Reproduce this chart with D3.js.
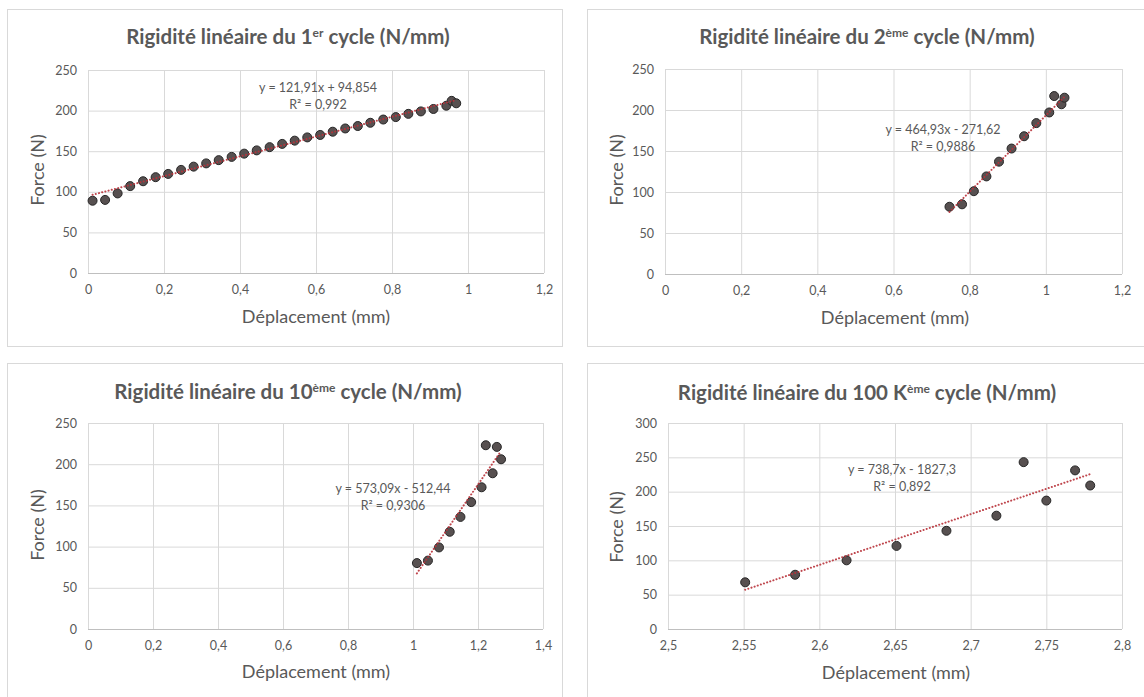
<!DOCTYPE html>
<html>
<head>
<meta charset="utf-8">
<script src="https://cdn.jsdelivr.net/npm/d3@7"></script>
<style>
  html, body { margin: 0; padding: 0; background: #ffffff; }
  svg { display: block; }
  text { font-family: Lato, "Open Sans", "DejaVu Sans", sans-serif; }
</style>
</head>
<body>
<svg id="chart" width="1144" height="697"></svg>
<script>
// ---------- DATA ----------
// Cycle 1
const cycle1X = [0.012, 0.045, 0.078, 0.111, 0.145, 0.178, 0.211, 0.245, 0.278, 0.311, 0.344, 0.378, 0.411, 0.444, 0.478, 0.511, 0.544, 0.577, 0.611, 0.644, 0.677, 0.710, 0.743, 0.777, 0.810, 0.843, 0.876, 0.909, 0.943, 0.957, 0.969];
const cycle1Y = [89, 90, 98, 107, 113, 118, 122, 127, 131, 135, 139, 143, 147, 151, 155, 159, 163, 167, 170, 174, 178, 181, 185, 189, 192, 196, 199, 202, 206, 212, 209];
// Cycle 2
const cycle2X = [0.747, 0.780, 0.811, 0.844, 0.877, 0.910, 0.943, 0.975, 1.009, 1.022, 1.041, 1.049];
const cycle2Y = [82, 85, 101, 119, 137, 153, 168, 184, 197, 217, 207, 215];
// Cycle 10
const cycle10X = [1.012, 1.046, 1.080, 1.113, 1.146, 1.179, 1.211, 1.224, 1.245, 1.258, 1.271];
const cycle10Y = [80, 83, 99, 118, 136, 154, 172, 223, 189, 221, 206];
// Cycle 100 K
const cycle100kX = [2.551, 2.584, 2.618, 2.651, 2.684, 2.717, 2.735, 2.750, 2.769, 2.779];
const cycle100kY = [68, 79, 100, 121, 143, 165, 243, 187, 231, 209];

// trendline coefficients (slope, intercept) and labels
const trendSlopes = [121.91, 464.93, 573.09, 738.7];
const trendIntercepts = [94.854, -271.62, -512.44, -1827.3];
const equationLabels = ["y = 121,91x + 94,854", "y = 464,93x - 271,62", "y = 573,09x - 512,44", "y = 738,7x - 1827,3"];
const r2Labels = ["R² = 0,992", "R² = 0,9886", "R² = 0,9306", "R² = 0,892"];

// titles: [before superscript, superscript, after]
const titleParts = [
  ["Rigidité linéaire du 1", "er", " cycle (N/mm)"],
  ["Rigidité linéaire du 2", "ème", " cycle (N/mm)"],
  ["Rigidité linéaire du 10", "ème", " cycle (N/mm)"],
  ["Rigidité linéaire du 100 K", "ème", " cycle (N/mm)"]
];
const xAxisTitle = "Déplacement (mm)";
const yAxisTitle = "Force (N)";

// tick values
const xTicks1 = [0, 0.2, 0.4, 0.6, 0.8, 1, 1.2];
const xTicks3 = [0, 0.2, 0.4, 0.6, 0.8, 1, 1.2, 1.4];
const xTicks4 = [2.5, 2.55, 2.6, 2.65, 2.7, 2.75, 2.8];
const yTicks250 = [0, 50, 100, 150, 200, 250];
const yTicks300 = [0, 50, 100, 150, 200, 250, 300];

// ---------- LAYOUT ----------
const panels = [
  { box: [7, 9, 555, 337], plot: [88, 70, 544, 273], xd: [0, 1.2], yd: [0, 250], xt: xTicks1, yt: yTicks250,
    xs: cycle1X, ys: cycle1Y, title: [288, 37], eq: [318, 88], xlab: [316, 317], ylab: [38, 170] },
  { box: [587, 9, 560, 337], plot: [665, 69, 1122, 274], xd: [0, 1.2], yd: [0, 250], xt: xTicks1, yt: yTicks250,
    xs: cycle2X, ys: cycle2Y, title: [867, 37], eq: [943, 130], xlab: [895, 318], ylab: [617, 170] },
  { box: [7, 363, 555, 340], plot: [88, 423, 543, 629], xd: [0, 1.4], yd: [0, 250], xt: xTicks3, yt: yTicks250,
    xs: cycle10X, ys: cycle10Y, title: [288, 392], eq: [393, 489], xlab: [316, 672], ylab: [38, 525] },
  { box: [587, 363, 560, 340], plot: [668, 423, 1122, 629], xd: [2.5, 2.8], yd: [0, 300], xt: xTicks4, yt: yTicks300,
    xs: cycle100kX, ys: cycle100kY, title: [867, 393], eq: [902, 470], xlab: [896, 673], ylab: [617, 527] }
];

const fmt = v => String(+v.toFixed(3)).replace(".", ",");
const svg = d3.select("#chart");
const textColor = "#595959";

panels.forEach((p, i) => {
  const g = svg.append("g");
  g.append("rect")
    .attr("x", p.box[0] + 0.5).attr("y", p.box[1] + 0.5)
    .attr("width", p.box[2]).attr("height", p.box[3])
    .attr("fill", "#ffffff").attr("stroke", "#d9d9d9").attr("stroke-width", 1);

  const x = d3.scaleLinear().domain(p.xd).range([p.plot[0], p.plot[2]]);
  const y = d3.scaleLinear().domain(p.yd).range([p.plot[3], p.plot[1]]);

  // vertical gridlines
  const gx = g.append("g")
    .attr("transform", `translate(0,${p.plot[3]})`)
    .call(d3.axisBottom(x).tickValues(p.xt).tickSize(-(p.plot[3] - p.plot[1])).tickFormat(fmt).tickPadding(12));
  gx.select(".domain").remove();
  gx.selectAll(".tick line").attr("stroke", "#d9d9d9").attr("stroke-width", 1);
  gx.selectAll(".tick text").attr("fill", textColor).style("font-size", "12.5px")
    .style("font-family", "Lato, 'Open Sans', sans-serif");

  // horizontal gridlines
  const gy = g.append("g")
    .attr("transform", `translate(${p.plot[0]},0)`)
    .call(d3.axisLeft(y).tickValues(p.yt).tickSize(-(p.plot[2] - p.plot[0])).tickPadding(11));
  gy.select(".domain").remove();
  gy.selectAll(".tick line").attr("stroke", "#d9d9d9").attr("stroke-width", 1);
  gy.selectAll(".tick text").attr("fill", textColor).style("font-size", "12.5px")
    .style("font-family", "Lato, 'Open Sans', sans-serif");

  // x axis baseline
  g.append("line")
    .attr("x1", p.plot[0]).attr("x2", p.plot[2])
    .attr("y1", y(p.yd[0]) + 0.5).attr("y2", y(p.yd[0]) + 0.5)
    .attr("stroke", "#bfbfbf").attr("stroke-width", 1);

  // markers
  const pts = p.xs.map((v, k) => [v, p.ys[k]]);
  g.append("g").selectAll("circle").data(pts).join("circle")
    .attr("cx", d => x(d[0])).attr("cy", d => y(d[1])).attr("r", 4.5)
    .attr("fill", "#575050").attr("stroke", "#262626").attr("stroke-width", 1);

  // trendline over data range
  const xmin = d3.min(p.xs), xmax = d3.max(p.xs);
  const tl = [xmin, xmax].map(v => [v, trendSlopes[i] * v + trendIntercepts[i]]);
  g.append("path")
    .attr("d", d3.line().x(d => x(d[0])).y(d => y(d[1]))(tl))
    .attr("fill", "none").attr("stroke", "#b8323a").attr("stroke-width", 2)
    .attr("stroke-dasharray", "0.1 3.2").attr("stroke-linecap", "round").attr("opacity", 0.9);

  // equation labels
  g.append("text").attr("x", p.eq[0]).attr("y", p.eq[1]).attr("dy", "0.35em")
    .attr("text-anchor", "middle").attr("fill", textColor).style("font-size", "12.5px")
    .text(equationLabels[i]);
  g.append("text").attr("x", p.eq[0]).attr("y", p.eq[1] + 17).attr("dy", "0.35em")
    .attr("text-anchor", "middle").attr("fill", textColor).style("font-size", "12.5px")
    .text(r2Labels[i]);

  // title
  const t = g.append("text").attr("x", p.title[0]).attr("y", p.title[1]).attr("dy", "0.35em")
    .attr("text-anchor", "middle").attr("fill", textColor)
    .style("font-size", "20.5px").style("font-weight", "bold");
  t.append("tspan").text(titleParts[i][0]);
  t.append("tspan").attr("dy", -7).style("font-size", "12px").text(titleParts[i][1]);
  t.append("tspan").attr("dy", 7).text(titleParts[i][2]);

  // axis titles
  g.append("text").attr("x", p.xlab[0]).attr("y", p.xlab[1]).attr("dy", "0.35em")
    .attr("text-anchor", "middle").attr("fill", textColor).style("font-size", "18px")
    .text(xAxisTitle);
  g.append("text").attr("transform", `translate(${p.ylab[0]},${p.ylab[1]}) rotate(-90)`)
    .attr("dy", "0.35em").attr("text-anchor", "middle").attr("fill", textColor).style("font-size", "18px")
    .text(yAxisTitle);
});
</script>
</body>
</html>
